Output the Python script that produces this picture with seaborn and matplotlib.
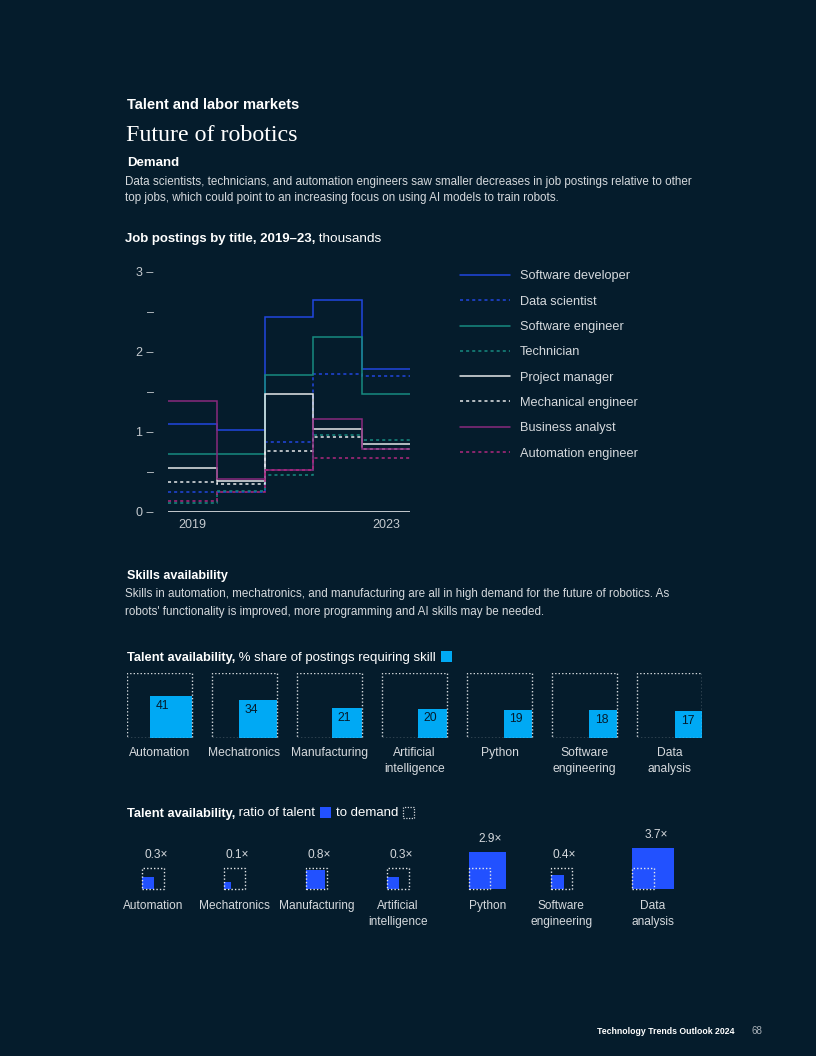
import numpy as np
import seaborn as sns
import matplotlib.pyplot as plt
from matplotlib.patches import Rectangle

# ====================== data ======================
years = [2019, 2020, 2021, 2022, 2023]
software_developer = [1.10, 1.02, 2.43, 2.65, 1.79]
data_scientist = [0.25, 0.25, 0.87, 1.72, 1.70]
software_engineer = [0.72, 0.72, 1.71, 2.18, 1.47]
technician = [0.11, 0.26, 0.46, 0.96, 0.90]
project_manager = [0.55, 0.39, 1.47, 1.03, 0.85]
mechanical_engineer = [0.37, 0.35, 0.76, 0.94, 0.79]
business_analyst = [1.39, 0.41, 0.52, 1.16, 0.78]
automation_engineer = [0.14, 0.25, 0.52, 0.67, 0.67]

job_titles = ['Software developer', 'Data scientist', 'Software engineer', 'Technician',
              'Project manager', 'Mechanical engineer', 'Business analyst', 'Automation engineer']
postings = [software_developer, data_scientist, software_engineer, technician,
            project_manager, mechanical_engineer, business_analyst, automation_engineer]

skills = ['Automation', 'Mechatronics', 'Manufacturing', 'Artificial\nintelligence',
          'Python', 'Software\nengineering', 'Data\nanalysis']
share_pct = [41, 34, 21, 20, 19, 18, 17]
talent_ratio = [0.3, 0.1, 0.8, 0.3, 2.9, 0.4, 3.7]

# ====================== style ======================
BG = '#051c2c'
WHITE = '#ffffff'
SOFT = '#d5d9dd'
AXIS = '#c4c9ce'
BLUE = '#2146e0'
TEAL = '#178a80'
LIGHT = '#e6e8ea'
PURPLE = '#8a2a7e'
MAGENTA = '#b0287f'
CYAN = '#00a9f4'
RATIO_BLUE = '#2251ff'
DOT = (0, (2, 2))

line_styles = {
    'Software developer': (BLUE, '-'),
    'Data scientist': (BLUE, DOT),
    'Software engineer': (TEAL, '-'),
    'Technician': (TEAL, DOT),
    'Project manager': (LIGHT, '-'),
    'Mechanical engineer': (LIGHT, DOT),
    'Business analyst': (PURPLE, '-'),
    'Automation engineer': (MAGENTA, DOT),
}

W, H = 816, 1056
sns.set_theme(style='dark', rc={'axes.facecolor': BG, 'figure.facecolor': BG,
                                'savefig.facecolor': BG})
plt.rcParams['font.family'] = ['Liberation Sans', 'DejaVu Sans']

fig = plt.figure(figsize=(W / 100, H / 100), dpi=100)
renderer = fig.canvas.get_renderer()


def px_axes(left, top, right, bottom):
    a = fig.add_axes([left / W, 1 - bottom / H, (right - left) / W, (bottom - top) / H])
    a.set_facecolor('none')
    a.grid(False)
    return a


def ftext(x, y, s, **kw):
    kw.setdefault('va', 'baseline')
    kw.setdefault('ha', 'left')
    kw.setdefault('color', WHITE)
    return fig.text(x / W, 1 - y / H, s, **kw)


def rich_line(x, y, parts, size=9.3):
    # parts: ('t', text, weight) or ('sq', side, facecolor, dotted)
    cur = x
    for p in parts:
        if p[0] == 't':
            sz = size if p[2] == 'bold' else size + 0.2
            t = ftext(cur, y, p[1], size=sz, weight=p[2])
            cur = t.get_window_extent(renderer).x1
        else:
            side, fc, dotted = p[1], p[2], p[3]
            cur += 5
            r = Rectangle((cur / W, 1 - (y + 1) / H), side / W, side / H,
                          transform=fig.transFigure,
                          facecolor=fc if not dotted else 'none',
                          edgecolor=SOFT if dotted else 'none',
                          linestyle=(0, (1, 1.2)), lw=0.9)
            fig.add_artist(r)
            cur += side + 5


# ====================== header ======================
ftext(127, 109, 'Talent and labor markets', size=10.5, weight='bold')
ftext(126, 141, 'Future of robotics', size=17.3, family=['Liberation Serif', 'DejaVu Serif'])
ftext(127, 166.5, 'Demand', size=9.5, weight='bold')
demand_text = ['Data scientists, technicians, and automation engineers saw smaller decreases in job postings relative to other',
               'top jobs, which could point to an increasing focus on using AI models to train robots.']
for i, line in enumerate(demand_text):
    ftext(125, 185.5 + 16 * i, line, size=8.4, color=SOFT)

rich_line(125, 242, [('t', 'Job postings by title, 2019–23,', 'bold'),
                     ('t', ' thousands', 'normal')], size=9.5)

# ====================== 1. step chart ======================
ax = px_axes(168.3, 271.7, 410, 511.7)
edges = np.append(years, years[-1] + 1)
for title, vals in zip(job_titles, postings):
    color, ls = line_styles[title]
    ax.stairs(vals, edges, baseline=None, color=color, linestyle=ls, lw=1.1,
              label=title, clip_on=False)
ax.axhline(0, color=AXIS, lw=1.4)
ax.set_xlim(edges[0], edges[-1])
ax.set_ylim(0, 3)
yt = np.arange(0, 3.01, 0.5)
ax.set_yticks(yt, [f"{v:.0f} –" if v % 1 == 0 else "–" for v in yt])
ax.set_xticks([years[0] + 0.5, years[-1] + 0.5], [str(years[0]), str(years[-1])])
ax.tick_params(length=0, colors=AXIS, labelsize=9)
ax.tick_params(axis='y', pad=10.5)
ax.tick_params(axis='x', pad=5)
sns.despine(ax=ax, left=True, bottom=True)

leg = ax.legend(loc='upper left', bbox_to_anchor=(460 / W, 1 - 270.5 / H),
                bbox_transform=fig.transFigure, frameon=False, fontsize=9.2,
                handlelength=3.9, handletextpad=0.8, labelspacing=1.04,
                borderpad=0, borderaxespad=0)
for t in leg.get_texts():
    t.set_color(SOFT)

# ====================== 2. skills text ======================
ftext(127, 579.5, 'Skills availability', size=9.1, weight='bold')
skills_text = ['Skills in automation, mechatronics, and manufacturing are all in high demand for the future of robotics. As',
               "robots' functionality is improved, more programming and AI skills may be needed."]
for i, line in enumerate(skills_text):
    ftext(125, 597.5 + 17 * i, line, size=8.4, color=SOFT)

rich_line(127, 660.5, [('t', 'Talent availability,', 'bold'),
                       ('t', ' % share of postings requiring skill', 'normal'),
                       ('sq', 11, CYAN, False)])

# share squares: box side = 1 unit
unit = 65
gap = 85 / unit
ax2 = px_axes(127, 673, 702, 738)
ax2.set_xlim(0, 575 / unit)
ax2.set_ylim(0, 1)
ax2.axis('off')
for i, (name, pct) in enumerate(zip(skills, share_pct)):
    x0 = i * gap
    side = np.sqrt(pct / 100)
    ax2.bar(x0 + 1 - side, side, width=side, align='edge', color=CYAN, lw=0, zorder=2)
    ax2.bar(x0, 1, width=1, align='edge', fill=False, edgecolor=SOFT,
            linestyle=(0, (1, 1.5)), lw=1.0, zorder=3)
    ax2.annotate(str(pct), (x0 + 1 - side, side), xytext=(4, -2.5), textcoords='offset points',
                 ha='left', va='top', size=8.7, color=BG)
    ax2.annotate(name, (x0 + 0.5, 0), xytext=(0, -6.5), textcoords='offset points',
                 ha='center', va='top', size=8.7, color=SOFT, linespacing=1.45)

# ====================== 3. ratio squares ======================
rich_line(127, 816.5, [('t', 'Talent availability,', 'bold'),
                       ('t', ' ratio of talent', 'normal'),
                       ('sq', 10.5, RATIO_BLUE, False),
                       ('t', 'to demand', 'normal'),
                       ('sq', 10.5, None, True)])

runit = 21.5
rgap = 81.67 / runit
ax3 = px_axes(142.3, 846, 672, 889)
ax3.set_xlim(0, (672 - 142.3) / runit)
ax3.set_ylim(0, 43 / runit)
ax3.axis('off')
for i, (name, r) in enumerate(zip(skills, talent_ratio)):
    x0 = i * rgap
    side = np.sqrt(r)
    m = max(1, side)
    ax3.bar(x0, side, width=side, align='edge', color=RATIO_BLUE, lw=0, zorder=2,
            clip_on=False)
    ax3.bar(x0, 1, width=1, align='edge', fill=False, edgecolor=LIGHT,
            linestyle=(0, (1, 1.5)), lw=1.0, zorder=3, clip_on=False)
    ax3.annotate(f"{r:.1f}×", (x0 + m / 2, m), xytext=(2, 9.3), textcoords='offset points',
                 ha='center', va='center', size=8.6, color=SOFT)
    ax3.annotate(name, (x0 + m / 2, 0), xytext=(0, -8), textcoords='offset points',
                 ha='center', va='top', size=8.6, color=SOFT, linespacing=1.45)

# ====================== footer ======================
ftext(597, 1034, 'Technology Trends Outlook 2024', size=6.3, weight='bold')
ftext(752, 1034, '68', size=7, color='#a9b1b8')

fig.savefig('out.png', dpi=100, facecolor=BG)
print("Saved: out.png")
